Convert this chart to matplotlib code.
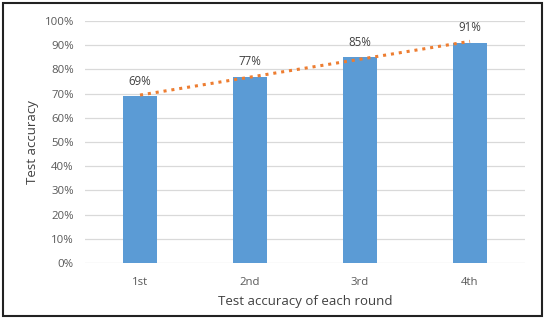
import matplotlib
matplotlib.use("Agg")
import matplotlib.pyplot as plt
import numpy as np

rounds = ['1st', '2nd', '3rd', '4th']
accuracy = [0.69, 0.77, 0.85, 0.91]
yticks = [0.0, 0.1, 0.2, 0.3, 0.4, 0.5, 0.6, 0.7, 0.8, 0.9, 1.0]

plt.rcParams['font.family'] = ['Open Sans', 'DejaVu Sans']
text_color = '#595959'

fig = plt.figure(figsize=(5.48, 3.18), dpi=100)
ax = fig.add_axes([85 / 548, 55 / 318, 440 / 548, 242 / 318])

x = np.arange(len(rounds))
ax.bar(x, accuracy, width=0.31, color='#5B9BD5', zorder=3)

# linear trendline
k, b = np.polyfit(x, accuracy, 1)
ax.plot(x, k * x + b, color='#ED7D31', linestyle=(0, (1, 1.6)), linewidth=2.2, zorder=4)

for xi, v in zip(x, accuracy):
    ax.annotate(f'{v:.0%}', (xi, v), xytext=(0, 6), textcoords='offset points',
                ha='center', va='bottom', fontsize=8.3, color='#404040')

ax.set_xlim(-0.5, 3.5)
ax.set_ylim(0, 1)
ax.set_yticks(yticks)
ax.set_yticklabels([f'{t:.0%}' for t in yticks])
ax.set_xticks(x)
ax.set_xticklabels(rounds)
ax.tick_params(length=0, labelsize=8.2, colors=text_color)
ax.tick_params(axis='x', pad=10)
ax.tick_params(axis='y', pad=8)
ax.grid(axis='y', color='#D9D9D9', linewidth=0.9, zorder=0)
for s in ax.spines.values():
    s.set_visible(False)

ax.set_xlabel('Test accuracy of each round', fontsize=9.5, color='#404040', labelpad=5)
ax.set_ylabel('Test accuracy', fontsize=9.5, color='#404040', labelpad=4)

fig.patches.append(plt.Rectangle((3 / 548, 2 / 318), 539 / 548, 313 / 318, transform=fig.transFigure,
                                 fill=False, edgecolor='#222222', linewidth=1.5))

plt.savefig('out.png', dpi=100)
plt.close()
